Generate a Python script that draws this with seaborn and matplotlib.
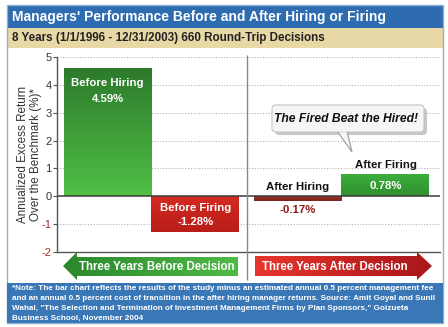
import numpy as np
import pandas as pd
import matplotlib
matplotlib.use("Agg")
import matplotlib.pyplot as plt
import seaborn as sns
from matplotlib.patches import Rectangle, Polygon, FancyBboxPatch
from matplotlib.colors import LinearSegmentedColormap

# ---- data ----
categories = ["Before Hiring", "Before Firing", "After Hiring", "After Firing"]
returns = [4.59, -1.28, -0.17, 0.78]
periods = ["Three Years Before Decision", "Three Years After Decision"]
y_ticks = [-2, -1, 0, 1, 2, 3, 4, 5]

title = "Managers' Performance Before and After Hiring or Firing"
subtitle = "8 Years (1/1/1996 - 12/31/2003) 660 Round-Trip Decisions"
callout = "The Fired Beat the Hired!"
ylabel = "Annualized Excess Return\nOver the Benchmark (%)*"
note_lines = [
    "*Note: The bar chart reflects the results of the study minus an estimated annual 0.5 percent management fee",
    "and an annual 0.5 percent cost of transition in the after hiring manager returns. Source: Amit Goyal and Sunil",
    "Wahal, \"The Selection and Termination of Investment Management Firms by Plan Sponsors,\" Goizueta",
    "Business School, November 2004",
]

# ---- styling ----
sns.set_theme(style="white")
plt.rcParams["font.family"] = ["Liberation Sans", "DejaVu Sans"]
plt.rcParams["axes.unicode_minus"] = False

W, H = 448, 327
fig = plt.figure(figsize=(W / 100, H / 100), dpi=100)
fig.patch.set_facecolor("white")
renderer = fig.canvas.get_renderer()


def fx(px):
    return px / W


def fy(py):
    return 1 - py / H


def fit_size(text, width_px, **kw):
    """Font size that makes `text` span `width_px` pixels."""
    t = fig.text(0, 0, text, fontsize=10, **kw)
    w = t.get_window_extent(renderer).width
    t.remove()
    return 10 * width_px / w


# main plotting axes
ax = fig.add_axes([fx(57), fy(252), fx(440) - fx(57), fy(57) - fy(252)], zorder=2)
ax.patch.set_alpha(0)

x_pos = [0, 1, 2.16, 3.16]
base_colors = ["#3a9a35", "#cc241e", "#8e2a24", "#3aa53a"]
df = pd.DataFrame({"pos": x_pos, "ret": returns, "cat": categories})
sns.barplot(data=df, x="pos", y="ret", hue="cat", hue_order=categories,
            palette=dict(zip(categories, base_colors)), native_scale=True,
            width=1, dodge=False, legend=False, saturation=1, linewidth=0, ax=ax)

# vertical colour gradients on the bars (top colour, bottom colour)
grads = [("#2d7a2b", "#50c046"), ("#d42a22", "#b81d18"),
         ("#9a302a", "#7e241f"), ("#3caf3b", "#2f8f2f")]
bars = sorted(ax.patches, key=lambda p: p.get_x())
for p, (ctop, cbot) in zip(bars, grads):
    x0 = p.get_x()
    x1 = x0 + p.get_width()
    y0, y1 = sorted([p.get_y(), p.get_y() + p.get_height()])
    cmap = LinearSegmentedColormap.from_list("g", [cbot, ctop])
    ax.imshow(np.linspace(0, 1, 256).reshape(-1, 1), cmap=cmap,
              extent=[x0, x1, y0, y1], origin="lower", aspect="auto",
              zorder=p.get_zorder() + 0.01)

ax.set_xlim(-0.574, 3.78)
ax.set_ylim(-2, 5)
ax.set_xlabel("")
ax.set_xticks([])
ax.set_yticks(y_ticks)
for t in y_ticks:
    if t not in (0, -2):
        ax.axhline(t, ls=(0, (1, 1.5)), color="#b5b5b5", lw=0.8, zorder=0.5)
ax.axhline(0, color="#3a3a3a", lw=1.1, zorder=3)
for s in ("top", "right"):
    ax.spines[s].set_visible(False)
for s in ("left", "bottom"):
    ax.spines[s].set_color("#555555")
    ax.spines[s].set_linewidth(1.0)
ax.tick_params(axis="y", length=3, width=0.8, color="#555555", labelsize=8, pad=1,
               left=True)
for lbl, v in zip(ax.get_yticklabels(), y_ticks):
    lbl.set_color("#a52a2a" if v < 0 else "#333333")
ax.set_ylabel(ylabel, fontsize=8.4, color="#333333", linespacing=1.1, labelpad=-0.5)

# bar annotations: (name offset px, name colour, value offset px, value colour)
PX = 0.72
label_specs = [
    (-14.5, "white", -30.5, "white"),
    (24.0, "white", 10.0, "white"),
    (None, "#111111", -9.0, "#8b1a1a"),
    (9.8, "#111111", -11.0, "white"),
]
for i, (name, v) in enumerate(zip(categories, returns)):
    n_off, n_col, v_off, v_col = label_specs[i]
    val_txt = f"{v:.2f}%"
    kw = dict(textcoords="offset points", ha="center", va="center",
              fontsize=8.2, fontweight="bold", zorder=4)
    if n_off is None:
        # name sits just above the zero line
        ax.annotate(name, xy=(x_pos[i], 0), xytext=(0, 9.5 * PX), color=n_col, **kw)
    else:
        ax.annotate(name, xy=(x_pos[i], v), xytext=(0, n_off * PX), color=n_col, **kw)
    ax.annotate(val_txt, xy=(x_pos[i], v), xytext=(0, v_off * PX), color=v_col, **kw)

# ---- overlay in pixel coordinates for banners, arrows, notes ----
ov = fig.add_axes([0, 0, 1, 1], zorder=5)
ov.set_xlim(0, W)
ov.set_ylim(H, 0)
ov.axis("off")
ov.patch.set_alpha(0)

# title and subtitle banners
ov.add_patch(Rectangle((7, 5), 436, 23, facecolor="#2d6cb0", edgecolor="none"))
ov.add_patch(Rectangle((7, 28), 436, 20, facecolor="#e8d8a6", edgecolor="none"))
ov.add_patch(Rectangle((7, 5), 436, 318, facecolor="none", edgecolor="#8fb0d0", lw=1))
ov.text(12, 17, title, color="white", fontweight="bold", va="center", ha="left",
        fontsize=fit_size(title, 375, fontweight="bold"))
ov.text(12, 38.5, subtitle, color="#222222", fontweight="bold", va="center", ha="left",
        fontsize=fit_size(subtitle, 311, fontweight="bold"))

# divider between the two periods
ov.plot([247, 247], [55, 280], color="#8a8a8a", lw=1, solid_capstyle="butt")


def gradient_polygon(pts, c_left, c_right):
    poly = Polygon(pts, closed=True, facecolor="none", edgecolor="none")
    ov.add_patch(poly)
    xs = [p[0] for p in pts]
    ys = [p[1] for p in pts]
    cmap = LinearSegmentedColormap.from_list("a", [c_left, c_right])
    im = ov.imshow(np.linspace(0, 1, 256).reshape(1, -1), cmap=cmap,
                   extent=[min(xs), max(xs), max(ys), min(ys)], aspect="auto")
    im.set_clip_path(poly)


left_arrow = [(63, 266), (77, 252), (77, 257), (238, 257), (238, 276), (77, 276), (77, 280)]
right_arrow = [(255, 256), (417, 256), (417, 252), (432, 266), (417, 280), (417, 276), (255, 276)]
gradient_polygon(left_arrow, "#2b862b", "#4fbb47")
gradient_polygon(right_arrow, "#e8352d", "#a8161a")
ov.text(157, 266.5, periods[0], color="white", fontweight="bold", ha="center", va="center",
        fontsize=fit_size(periods[0], 156, fontweight="bold"))
ov.text(335, 266.5, periods[1], color="white", fontweight="bold", ha="center", va="center",
        fontsize=fit_size(periods[1], 146, fontweight="bold"))

# notes banner
ov.add_patch(Rectangle((7, 283), 436, 40, facecolor="#3a77b6", edgecolor="none"))
note_fs = fit_size(note_lines[0], 420, fontweight="bold")
for k, line in enumerate(note_lines):
    ov.text(12, 289 + k * 9.7, line, color="white", fontweight="bold", ha="left",
            va="center", fontsize=note_fs)

# speech bubble
ov.add_patch(FancyBboxPatch((275, 108), 152, 27, boxstyle="round,pad=0,rounding_size=4",
                            facecolor="#9a9a9a", edgecolor="none", alpha=0.55))
ov.add_patch(Polygon([(337, 131), (352, 152), (347, 131)], closed=True,
                     facecolor="#f5f5f5", edgecolor="#9a9a9a", lw=0.8))
ov.add_patch(FancyBboxPatch((272, 105), 152, 27, boxstyle="round,pad=0,rounding_size=4",
                            facecolor="#f6f6f6", edgecolor="#c4c4c4", lw=0.8))
ov.add_patch(Polygon([(338, 131.5), (346, 131.5), (345, 133)], closed=True,
                     facecolor="#f6f6f6", edgecolor="none"))
ov.text(346, 118.5, callout, color="#111111", fontweight="bold", fontstyle="italic",
        ha="center", va="center",
        fontsize=fit_size(callout, 144, fontweight="bold", fontstyle="italic"))

fig.savefig("out.png", dpi=100, facecolor="white")
